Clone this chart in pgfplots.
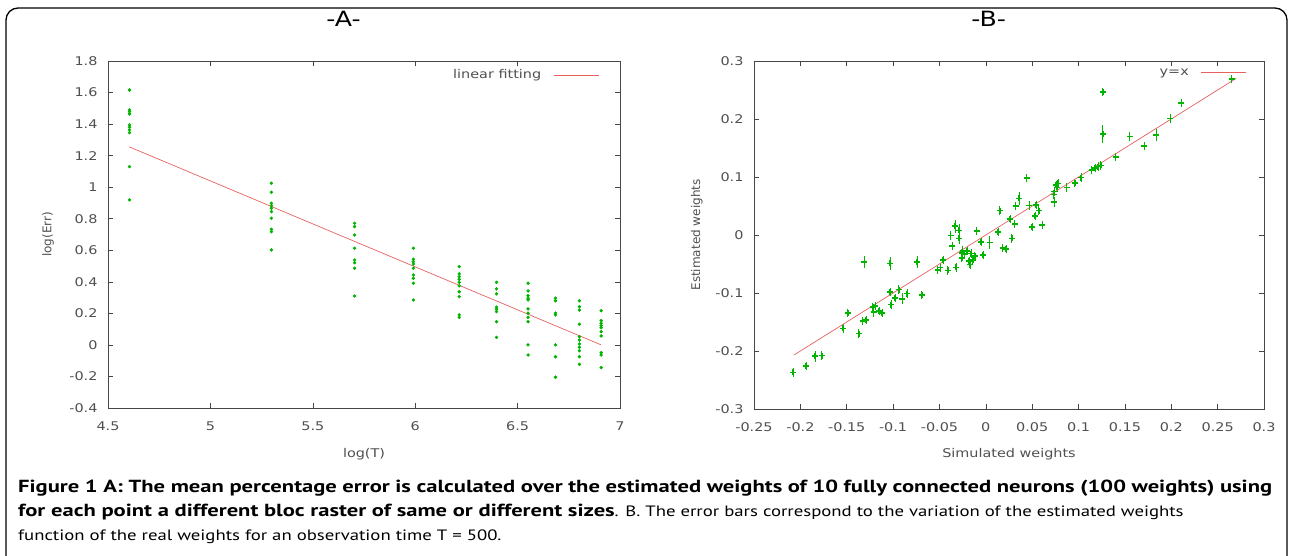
\documentclass[border=0pt]{standalone}
\usepackage{pgfplots}
\pgfplotsset{compat=1.18}
\usepackage{fontspec}
\setmainfont{PT Sans}[FakeStretch=1.12]
\newfontfamily\capr{PT Sans}[FakeStretch=1.25]
\newfontfamily\capb{PT Sans}[FakeStretch=1.29]
\newfontfamily\pf{DejaVu Sans}[FakeStretch=1.2]
\newfontfamily\pfr{DejaVu Sans}

\definecolor{ptgreen}{RGB}{0,180,0}
\definecolor{fitred}{RGB}{232,96,96}
\definecolor{axgray}{RGB}{70,70,70}
\definecolor{txtgray}{RGB}{80,80,80}

\pgfplotsset{
  gp/.style={
    scale only axis,
    axis line style={axgray, line width=0.8pt},
    tick style={axgray, line width=0.6pt},
    tick align=inside,
    major tick length=5pt,
    tick label style={font=\pf\fontsize{12}{14}\selectfont, text=txtgray},
    xticklabel style={yshift=-10pt},
    yticklabel style={xshift=-7pt},
    xlabel style={font=\pf\fontsize{12}{14}\selectfont, text=txtgray},
    ylabel style={font=\pfr\fontsize{12}{14}\selectfont, text=txtgray},
    title style={font=\pf\fontsize{21}{24}\selectfont, at={(axis description cs:0.46,1)}, anchor=center, yshift=36pt},
    legend style={draw=none, fill=none, font=\pf\fontsize{12}{14}\selectfont, text=txtgray,
      /tikz/every odd column/.append style={column sep=10pt}},
    legend plot pos=right,
    legend image code/.code={\draw[#1] (0pt,0pt) -- (45pt,0pt);},
  }
}

\pgfplotstableread{
x y
4.605 1.616
4.605 1.490
4.605 1.479
4.605 1.464
4.605 1.395
4.605 1.380
4.605 1.363
4.605 1.346
4.605 1.130
4.605 0.919
5.298 1.025
5.298 0.968
5.298 0.898
5.298 0.883
5.298 0.866
5.298 0.845
5.298 0.803
5.298 0.733
5.298 0.718
5.298 0.602
5.704 0.771
5.704 0.750
5.704 0.697
5.704 0.613
5.704 0.538
5.704 0.521
5.704 0.486
5.704 0.310
5.991 0.613
5.991 0.543
5.991 0.528
5.991 0.513
5.991 0.486
5.991 0.443
5.991 0.422
5.991 0.391
5.991 0.285
6.215 0.496
6.215 0.450
6.215 0.433
6.215 0.416
6.215 0.397
6.215 0.374
6.215 0.337
6.215 0.306
6.215 0.190
6.215 0.175
6.397 0.397
6.397 0.355
6.397 0.323
6.397 0.239
6.397 0.226
6.397 0.211
6.397 0.147
6.397 0.048
6.551 0.391
6.551 0.342
6.551 0.312
6.551 0.296
6.551 0.285
6.551 0.228
6.551 0.201
6.551 0.175
6.551 0.147
6.551 0.000
6.551 -0.064
6.685 0.296
6.685 0.280
6.685 0.201
6.685 0.190
6.685 0.000
6.685 -0.075
6.685 -0.205
6.802 0.280
6.802 0.242
6.802 0.221
6.802 0.131
6.802 0.052
6.802 0.031
6.802 0.006
6.802 -0.015
6.802 -0.037
6.802 -0.075
6.802 -0.123
6.908 0.217
6.908 0.154
6.908 0.137
6.908 0.122
6.908 0.109
6.908 0.084
6.908 0.057
6.908 -0.049
6.908 -0.064
6.908 -0.144
}\errA

\pgfplotstableread{
x y e
-0.208 -0.237 0.002
-0.194 -0.226 0.002
-0.184 -0.209 0.004
-0.177 -0.208 0.002
-0.154 -0.161 0.002
-0.149 -0.135 0.002
-0.137 -0.170 0.002
-0.133 -0.148 0.002
-0.129 -0.146 0.002
-0.131 -0.046 0.005
-0.122 -0.124 0.002
-0.119 -0.123 0.002
-0.121 -0.133 0.004
-0.115 -0.131 0.002
-0.112 -0.134 0.002
-0.103 -0.098 0.002
-0.102 -0.120 0.002
-0.103 -0.049 0.006
-0.098 -0.109 0.002
-0.094 -0.094 0.002
-0.090 -0.110 0.004
-0.085 -0.101 0.002
-0.074 -0.046 0.005
-0.069 -0.104 0.002
-0.052 -0.060 0.002
-0.049 -0.056 0.002
-0.046 -0.043 0.002
-0.041 -0.061 0.002
-0.032 -0.056 0.002
-0.038 -0.001 0.002
-0.036 -0.019 0.002
-0.033 0.015 0.006
-0.029 0.008 0.005
-0.029 -0.006 0.005
-0.026 -0.031 0.002
-0.025 -0.027 0.002
-0.023 -0.033 0.002
-0.026 -0.040 0.002
-0.020 -0.028 0.002
-0.018 -0.045 0.002
-0.017 -0.051 0.002
-0.014 -0.043 0.002
-0.012 -0.036 0.002
-0.016 -0.032 0.002
-0.010 0.007 0.002
-0.005 -0.012 0.002
-0.003 -0.035 0.002
0.004 -0.013 0.006
0.013 0.005 0.002
0.015 0.042 0.002
0.018 -0.023 0.002
0.022 -0.024 0.002
0.028 -0.006 0.002
0.026 0.027 0.002
0.031 0.019 0.002
0.032 0.050 0.002
0.036 0.063 0.006
0.044 0.098 0.002
0.050 0.014 0.002
0.061 0.017 0.002
0.047 0.051 0.002
0.054 0.052 0.002
0.053 0.033 0.002
0.057 0.042 0.002
0.074 0.057 0.004
0.073 0.070 0.002
0.074 0.075 0.002
0.077 0.082 0.002
0.078 0.089 0.002
0.076 0.086 0.002
0.087 0.082 0.002
0.096 0.090 0.002
0.103 0.099 0.002
0.114 0.112 0.002
0.118 0.115 0.002
0.121 0.118 0.002
0.124 0.120 0.002
0.126 0.246 0.002
0.126 0.174 0.010
0.140 0.135 0.002
0.155 0.170 0.002
0.171 0.153 0.002
0.184 0.172 0.005
0.199 0.201 0.002
0.211 0.227 0.002
0.265 0.269 0.002
}\wB

\begin{document}
\begin{tikzpicture}[x=1pt,y=1pt]
\path[use as bounding box] (0,0) rectangle (1290,556);
\draw[line width=1.3pt, rounded corners=12pt] (6,-30) -- (6,548) -- (1287,548) -- (1287,-30);

% panel A
\begin{axis}[gp,
  at={(108pt,148pt)}, anchor=south west,
  width=512pt, height=347pt,
  xmin=4.5, xmax=7, ymin=-0.4, ymax=1.8,
  xtick={4.5,5,...,7}, xticklabels={4.5,5,5.5,6,6.5,7},
  ytick={-0.4,-0.2,...,1.81},
  yticklabels={-0.4,-0.2,0,0.2,0.4,0.6,0.8,1,1.2,1.4,1.6,1.8},
  title={-A-},
  xlabel={log(T)}, ylabel={log(Err)},
  xlabel style={at={(axis description cs:0.5,-0.133)}, anchor=center},
  ylabel style={at={(axis description cs:-0.117,0.5)}, anchor=center},
  legend style={at={(axis description cs:0.965,0.96)}, anchor=east},
]
\addplot[only marks, mark=*, mark size=1.5pt, ptgreen, forget plot] table[x=x,y=y]{\errA};
\addplot[fitred, line width=0.7pt] coordinates {(4.605,1.255) (6.908,0.0)};
\legend{linear fitting}
\end{axis}

% panel B
\begin{axis}[gp,
  at={(754pt,147pt)}, anchor=south west,
  width=510pt, height=348pt,
  xmin=-0.25, xmax=0.3, ymin=-0.3, ymax=0.3,
  xtick={-0.25,-0.2,...,0.31},
  xticklabels={-0.25,-0.2,-0.15,-0.1,-0.05,0,0.05,0.1,0.15,0.2,0.25,0.3},
  ytick={-0.3,-0.2,...,0.31},
  yticklabels={-0.3,-0.2,-0.1,0,0.1,0.2,0.3},
  title={-B-},
  xlabel={Simulated weights}, ylabel={Estimated weights},
  xlabel style={at={(axis description cs:0.5,-0.13)}, anchor=center},
  ylabel style={at={(axis description cs:-0.112,0.5)}, anchor=center},
  legend style={at={(axis description cs:0.972,0.966)}, anchor=east},
]
\addplot[only marks, mark=+, mark size=3pt, ptgreen, line width=1.7pt, forget plot,
  error bars/.cd, y dir=both, y explicit,
  error bar style={line width=0.7pt, ptgreen},
  error mark options={mark size=3pt, line width=0.7pt, ptgreen}]
  table[x=x,y=y,y error=e]{\wB};
\addplot[fitred, line width=0.7pt] coordinates {(-0.207,-0.207) (0.27,0.27)};
\legend{y=x}
\end{axis}

\node[anchor=north west, inner sep=0pt, text width=1254pt, align=justify,
  font=\capr\fontsize{15}{24}\selectfont] at (18,556-480)
  {{\capb\fontsize{17.5}{24}\selectfont\bfseries Figure 1 A: The mean percentage error is calculated over the estimated weights of 10 fully connected neurons (100 weights) using}\linebreak
   {\capb\fontsize{17.5}{24}\selectfont\bfseries for each point a different bloc raster of same or different sizes}. B. The error bars correspond to the variation of the estimated weights\newline
   function of the real weights for an observation time T = 500.};
\end{tikzpicture}
\end{document}
